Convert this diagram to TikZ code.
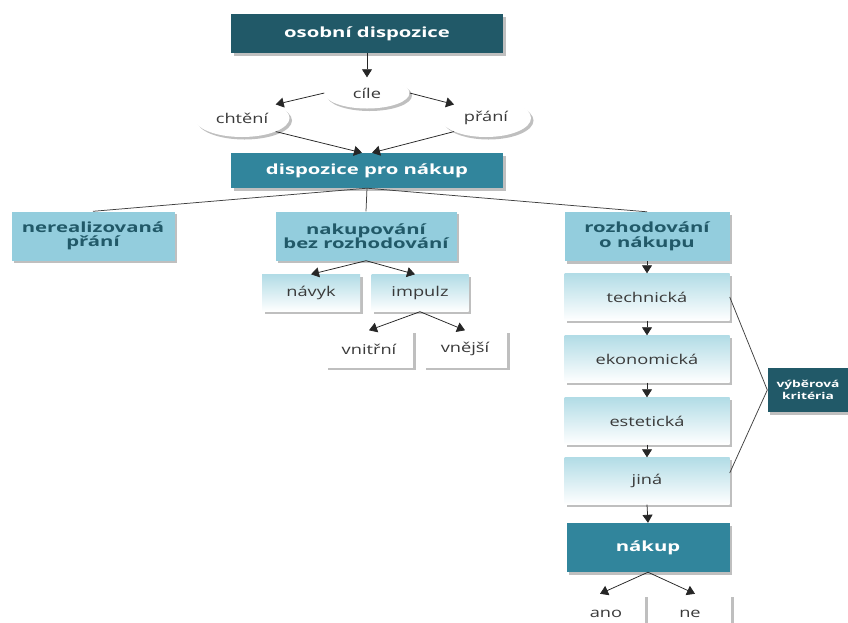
\documentclass[tikz,border=0pt]{standalone}
\usepackage{fontspec}
\setmainfont[FakeStretch=1.35,BoldFeatures={FakeStretch=1.45}]{Open Sans}
\usetikzlibrary{shapes.geometric,shadows,arrows.meta}
\definecolor{dteal}{HTML}{215968}
\definecolor{mteal}{HTML}{31859C}
\definecolor{lteal}{HTML}{93CDDD}
\definecolor{gtop}{HTML}{B2DCE6}
\definecolor{txtgray}{HTML}{3A3A3A}
\tikzset{
  shad/.style={drop shadow={shadow xshift=2.5pt,shadow yshift=-2.5pt,fill=black!50,opacity=.5}},
  bfnt/.style={font=\fontsize{14}{14.5}\selectfont\bfseries},
  rfnt/.style={font=\fontsize{13.5}{15}\selectfont},
  darkbox/.style={shad,rectangle,fill=dteal,text=white,bfnt,align=center,inner sep=0pt},
  midbox/.style={shad,rectangle,fill=mteal,text=white,bfnt,align=center,inner sep=0pt},
  lightbox/.style={shad,rectangle,fill=lteal,text=dteal,bfnt,align=center,inner sep=0pt},
  gradbox/.style={shad,rectangle,top color=gtop,bottom color=white,text=txtgray,rfnt,align=center,inner sep=0pt},
  whitebox/.style={shad,rectangle,fill=white,text=txtgray,rfnt,align=center,inner sep=0pt},
  oval/.style={shad,ellipse,fill=white,text=txtgray,rfnt,inner sep=0pt},
  arr/.style={draw=black!85,line width=0.75pt,-{Triangle[width=10pt,length=8pt]}},
  ln/.style={draw=black!75,line width=0.75pt},
}
\begin{document}
\begin{tikzpicture}[x=1pt,y=-1pt]
\useasboundingbox[fill=white] (0,0) rectangle (848,622);
% top part
\node[darkbox,minimum width=272pt,minimum height=39pt] (osob) at (367,33.5) {osobní dispozice};
\node[oval,minimum width=85pt,minimum height=31pt] (cile) at (367,93) {cíle};
\node[oval,minimum width=95pt,minimum height=38pt] (chteni) at (242,118) {chtění};
\node[oval,minimum width=90pt,minimum height=38pt] (prani) at (486,118) {přání};
\node[midbox,minimum width=272pt,minimum height=35pt] (disp) at (367,170.5) {dispozice pro nákup};
% second level
\node[lightbox,minimum width=163pt,minimum height=49pt] (nereal) at (93,236) {nerealizovaná\\přání};
\node[lightbox,minimum width=181pt,minimum height=49pt] (bez) at (366,236) {nakupování\\bez rozhodování};
\node[lightbox,minimum width=165pt,minimum height=49pt] (rozh) at (647,236.5) {rozhodování\\o nákupu};
% left branch
\node[gradbox,minimum width=98pt,minimum height=37pt] (navyk) at (311,293) {návyk};
\node[gradbox,minimum width=97pt,minimum height=37pt] (impulz) at (420,293) {impulz};
\node[whitebox,minimum width=88pt,minimum height=37pt] (vnitr) at (369,349) {vnitřní};
\node[whitebox,minimum width=84pt,minimum height=37pt] (vnej) at (465,349) {vnější};
% right column
\node[gradbox,minimum width=165pt,minimum height=47pt] (tech) at (647,297) {technická};
\node[gradbox,minimum width=165pt,minimum height=47pt] (ekon) at (647,359) {ekonomická};
\node[gradbox,minimum width=165pt,minimum height=47pt] (este) at (647,421) {estetická};
\node[gradbox,minimum width=165pt,minimum height=47pt] (jina) at (647,481) {jiná};
\node[darkbox,font=\fontsize{9.5}{11.5}\selectfont\bfseries,minimum width=81pt,minimum height=44pt] (krit) at (808,390) {výběrová\\kritéria};
\node[midbox,minimum width=163pt,minimum height=49pt] (nakup) at (648,547.5) {nákup};
\node[whitebox,minimum width=78pt,minimum height=40pt] (ano) at (606,614) {ano};
\node[whitebox,minimum width=82pt,minimum height=40pt] (ne) at (690,614) {ne};
% connectors
\draw[arr] (osob.south) -- (cile.north);
\draw[arr] (cile.west) -- (chteni.north east);
\draw[arr] (cile.east) -- (prani.north west);
\draw[arr] (chteni.south east) -- ([xshift=-5pt]disp.north);
\draw[arr] (prani.south west) -- ([xshift=5pt]disp.north);
\draw[ln] (disp.south) -- (nereal.north);
\draw[ln] (disp.south) -- (bez.north);
\draw[ln] (disp.south) -- (rozh.north);
\draw[arr] (bez.south) -- (navyk.north);
\draw[arr] (bez.south) -- ([xshift=-5pt]impulz.north);
\draw[arr] (impulz.south) -- (vnitr.north);
\draw[arr] (impulz.south) -- (vnej.north);
\draw[arr] (rozh.south) -- (tech.north);
\draw[arr] (tech.south) -- (ekon.north);
\draw[arr] (ekon.south) -- (este.north);
\draw[arr] (este.south) -- (jina.north);
\draw[arr] (jina.south) -- (nakup.north);
\draw[arr] (nakup.south) -- ([xshift=-6pt]ano.north);
\draw[arr] (nakup.south) -- ([xshift=5pt]ne.north);
\draw[ln] (tech.east) -- (krit.west) -- ([yshift=8pt]jina.east);
\end{tikzpicture}
\end{document}
